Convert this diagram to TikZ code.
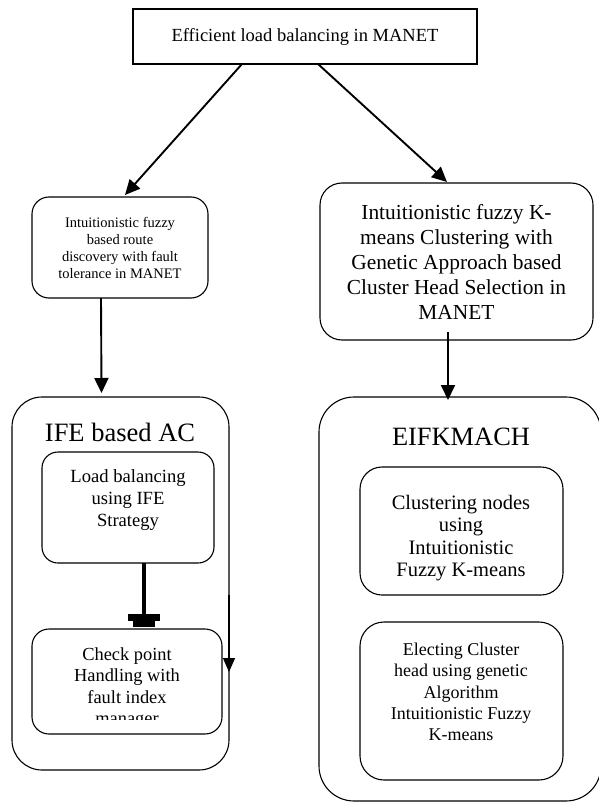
\documentclass[tikz,border=0pt]{standalone}
\usepackage{fontspec}
\setmainfont{Liberation Serif}
\usetikzlibrary{arrows.meta}

% font size with baseline skip
\newcommand{\fsz}[2]{\fontsize{#1}{#2}\selectfont}

\begin{document}
\begin{tikzpicture}[x=1pt,y=-1pt,
  roundbox/.style={draw,line width=1.1pt,inner sep=0pt,outer sep=0pt},
  boxtext/.style={align=center,inner sep=0pt},
  flowarrow/.style={-{Triangle[length=15pt,width=14pt]},line width=1.9pt}]
  \useasboundingbox (0,0) rectangle (598,802);
  % Goal at the top
  \node[roundbox,line width=1.3pt,minimum width=344pt,minimum height=55pt,font=\fsz{18.5}{22}] (goal) at (305,36.5) {Efficient load balancing in MANET};
  % First level works
  \node[roundbox,boxtext,rounded corners=17pt,minimum width=176pt,minimum height=101pt,font=\fsz{14.5}{17}] (route) at (120,247.5)
    {Intuitionistic fuzzy\\based route\\discovery with fault\\tolerance in MANET};
  \node[roundbox,boxtext,rounded corners=22pt,minimum width=273pt,minimum height=157pt,font=\fsz{21.4}{25}] (cluster) at (456.5,261.5)
    {Intuitionistic fuzzy K-\\means Clustering with\\Genetic Approach based\\Cluster Head Selection in\\MANET};
  % IFE based AC
  \node[roundbox,rounded corners=30pt,minimum width=217pt,minimum height=373pt] (ife) at (120.5,583.5) {};
  \node[boxtext,font=\fsz{26.5}{30}] (ifetitle) at (120,432) {IFE based AC};
  \node[roundbox,rounded corners=16pt,minimum width=172pt,minimum height=111pt] (load) at (128,507.5) {};
  \node[boxtext,font=\fsz{18.6}{21.7}] (loadtext) at (128,500) {Load balancing\\using IFE\\Strategy};
  \node[roundbox,rounded corners=17pt,minimum width=190pt,minimum height=105pt] (check) at (127,681.5) {};
  \begin{scope}
    \clip (32,629) rectangle (222,719.5);
    \node[boxtext,font=\fsz{18.4}{21.2}] (checktext) at (127,688) {Check point\\Handling with\\fault index\\manager};
  \end{scope}
  % EIFKMACH
  \node[roundbox,rounded corners=35pt,minimum width=282pt,minimum height=404pt] (eif) at (460,599) {};
  \node[boxtext,font=\fsz{26.4}{30}] (eiftitle) at (461,437) {EIFKMACH};
  \node[roundbox,rounded corners=22pt,minimum width=203pt,minimum height=128pt] (nodes) at (461.5,531) {};
  \node[boxtext,font=\fsz{20.5}{22.5}] (nodestext) at (461,538) {Clustering nodes\\using\\Intuitionistic\\Fuzzy K-means};
  \node[roundbox,rounded corners=24pt,minimum width=203pt,minimum height=158pt] (elect) at (461.5,701) {};
  \node[boxtext,font=\fsz{18}{21.2}] (electtext) at (461,692) {Electing Cluster\\head using genetic\\Algorithm\\Intuitionistic Fuzzy\\K-means};
  % Arrows
  \draw[flowarrow] ([xshift=-63pt]goal.south) -- ([xshift=5pt,yshift=2pt]route.north);
  \draw[flowarrow] ([xshift=13pt]goal.south) -- ([xshift=-9.5pt,yshift=1pt]cluster.north);
  \draw[flowarrow] ([xshift=-19pt]route.south) -- ([xshift=-19pt,yshift=4pt]ife.north);
  \draw[flowarrow] ([xshift=-8.5pt,yshift=8pt]cluster.south) -- ([xshift=-12pt,yshift=-3pt]eif.north);
  \draw[-{Rectangle[length=7pt,width=32pt,sep=-1pt]Rectangle[length=7pt,width=22pt]},line width=4pt]
    ([xshift=16pt]load.south) -- ([xshift=17pt,yshift=2pt]check.north);
  % Side arrow along the IFE box
  \coordinate (sidetail) at (229,595);
  \coordinate (sidehead) at (229,672);
  \draw[-{Triangle[length=14pt,width=12pt]},line width=1.2pt] (sidetail) -- (sidehead);
\end{tikzpicture}
\end{document}
